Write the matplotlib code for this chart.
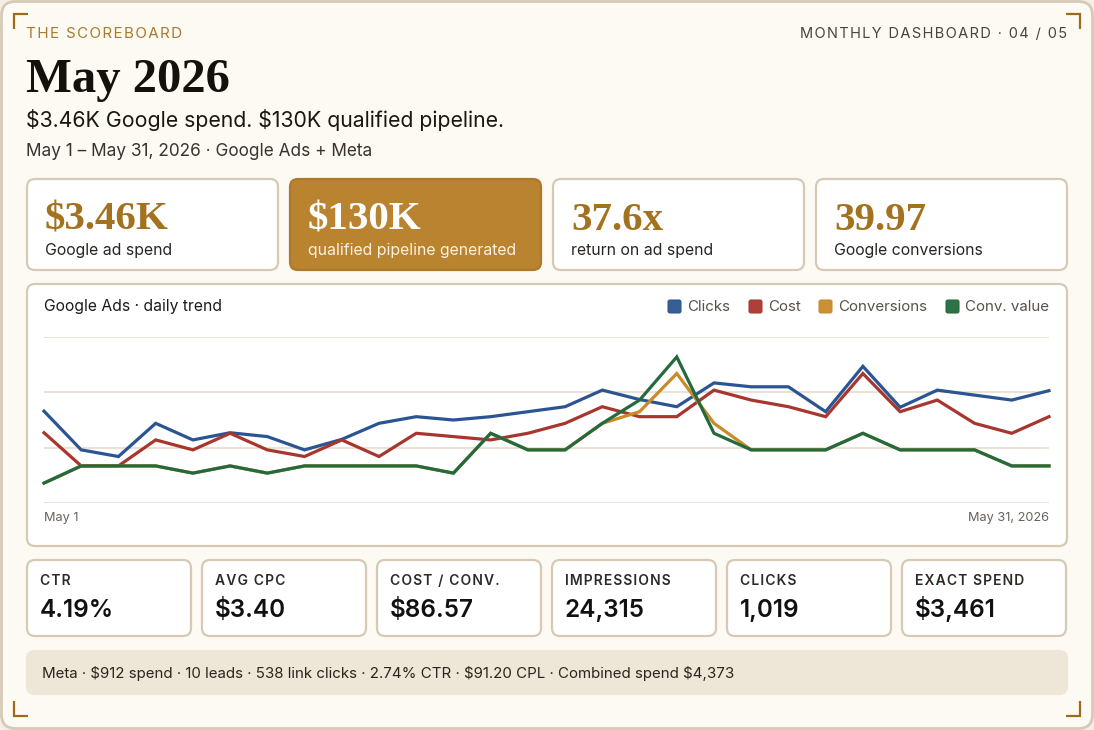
import numpy as np
import matplotlib.pyplot as plt
from matplotlib.patches import FancyBboxPatch

days = list(range(28))
clicks = [166, 96, 84, 144, 114, 127, 120, 96, 115, 144, 156, 150, 156, 165,
          174, 204, 187, 174, 217, 210, 210, 165, 247, 173, 204, 195, 186, 203]
cost = [127, 67, 67, 114, 96, 126, 96, 84, 114, 84, 126, 120, 114, 126,
        144, 174, 156, 156, 204, 186, 174, 156, 234, 165, 186, 144, 126, 156]
conversions = [36, 67, 67, 67, 54, 67, 54, 67, 67, 67, 67, 54, 126, 96,
               96, 144, 165, 234, 144, 96, 96, 96, 126, 96, 96, 96, 67, 67]
conv_value = [36, 67, 67, 67, 54, 67, 54, 67, 67, 67, 67, 54, 126, 96,
              96, 144, 186, 264, 126, 96, 96, 96, 126, 96, 96, 96, 67, 67]

series_names = ['Clicks', 'Cost', 'Conversions', 'Conv. value']
series_colors = ['#2B5592', '#A8362F', '#C98A2A', '#236A3D']

kpi_values = ['$3.46K', '$130K', '37.6x', '39.97']
kpi_labels = ['Google ad spend', 'qualified pipeline generated', 'return on ad spend', 'Google conversions']

stat_labels = ['CTR', 'AVG CPC', 'COST / CONV.', 'IMPRESSIONS', 'CLICKS', 'EXACT SPEND']
stat_values = ['4.19%', '$3.40', '$86.57', '24,315', '1,019', '$3,461']

meta_line = 'Meta \u00b7 $912 spend \u00b7 10 leads \u00b7 538 link clicks \u00b7 2.74% CTR \u00b7 $91.20 CPL \u00b7 Combined spend $4,373'

SANS = ['Inter', 'DejaVu Sans']
SERIF = ['Liberation Serif', 'DejaVu Serif']
GOLD = '#A3721F'
EDGE = '#D6CAB6'
W, H = 1094, 730

fig = plt.figure(figsize=(W / 100, H / 100), dpi=100, facecolor='#F4EFE6')
bg = fig.add_axes([0, 0, 1, 1])
bg.set_xlim(0, W)
bg.set_ylim(H, 0)
bg.axis('off')


def box(x0, y0, x1, y1, fc, ec, r=8, lw=1.6):
    p = FancyBboxPatch((x0, y0), x1 - x0, y1 - y0,
                       boxstyle='round,pad=0,rounding_size=%d' % r,
                       fc=fc, ec=ec, lw=lw)
    bg.add_patch(p)


def txt(x, y, s, size, color='#1F1A14', weight='normal', family=SANS, ha='left'):
    bg.text(x, y, s, fontsize=size, color=color, fontweight=weight,
            family=family, ha=ha, va='baseline', parse_math=False)


def tracked(s):
    # poor man's letter spacing
    return '\u200a'.join(s)


# outer frame
box(1.5, 1.5, W - 1.5, H - 1.5, '#FDFAF3', EDGE, r=14, lw=2)

# corner marks
for cx, cy, dx, dy in [(14, 14, 1, 1), (1080, 14, -1, 1), (14, 716, 1, -1), (1080, 716, -1, -1)]:
    bg.plot([cx + 14 * dx, cx, cx], [cy, cy, cy + 15 * dy], color='#9C6A1C', lw=1.6,
            solid_capstyle='butt', solid_joinstyle='miter')

# header
txt(26, 38, tracked('THE SCOREBOARD'), 10.9, color='#A87A2E')
txt(1067, 38, tracked('MONTHLY DASHBOARD \u00b7 04 / 05'), 10.5, color='#4A443C', ha='right')
txt(26, 92, 'May 2026', 35, weight='bold', family=SERIF, color='#14110D')
txt(26, 127, '$3.46K Google spend. $130K qualified pipeline.', 15.3, color='#1A1612')
txt(26, 156, 'May 1 \u2013 May 31, 2026 \u00b7 Google Ads + Meta', 12.4, color='#3A332B')

# KPI cards
kpi_x = [27, 290, 553, 816]
for i, x0 in enumerate(kpi_x):
    if i == 1:
        box(x0, 179, x0 + 251, 270, '#B98330', '#AD7A2A')
        vc, lc = '#FFFFFF', '#FBF1E0'
    else:
        box(x0, 179, x0 + 251, 270, '#FFFFFF', EDGE)
        vc, lc = GOLD, '#2A2520'
    txt(x0 + 18, 230, kpi_values[i], 29.5, color=vc, weight='bold', family=SERIF)
    txt(x0 + 18, 255, kpi_labels[i], 11.4, color=lc)

# chart panel
box(27, 284, 1067, 546, '#FFFFFF', EDGE)
txt(44, 311, 'Google Ads \u00b7 daily trend', 11.3, color='#1F1A14')

leg_x = [668, 749, 819, 946]
for name, color, lx in zip(series_names, series_colors, leg_x):
    bg.add_patch(FancyBboxPatch((lx, 300), 13, 13, boxstyle='round,pad=0,rounding_size=2',
                                fc=color, ec=color, lw=0.8, alpha=0.95))
    txt(lx + 19, 311, name, 10.9, color='#5A5248')

ax = fig.add_axes([44 / W, (H - 503) / H, (1049 - 44) / W, (503 - 337) / H])
ax.set_xlim(0, 27)
ax.set_ylim(0, 300)
ax.patch.set_alpha(0)
for g in [0, 100, 200, 300]:
    ax.axhline(g, color='#EAE2D4', lw=1.5, zorder=1)
for vals, color in zip([clicks, cost, conversions, conv_value], series_colors):
    ax.plot(days, vals, color=color, lw=2.3, zorder=3, clip_on=False,
            solid_joinstyle='miter')
ax.axis('off')

txt(44, 521, 'May 1', 9.2, color='#6B6259')
txt(1049, 521, 'May 31, 2026', 9.2, color='#6B6259', ha='right')

# stat cards
for i in range(6):
    x0 = 27 + i * 175
    box(x0, 560, x0 + 164, 636, '#FFFFFF', EDGE)
    txt(x0 + 13, 585, tracked(stat_labels[i]), 10, color='#2E2924', weight='semibold')
    txt(x0 + 13, 617, stat_values[i], 17.5, color='#111111', weight='semibold')

# meta strip
box(27, 651, 1067, 694, '#EEE6D6', '#EEE6D6')
txt(42, 678, meta_line, 10.85, color='#2A2520')

fig.savefig('out.png', dpi=100, facecolor=fig.get_facecolor())
